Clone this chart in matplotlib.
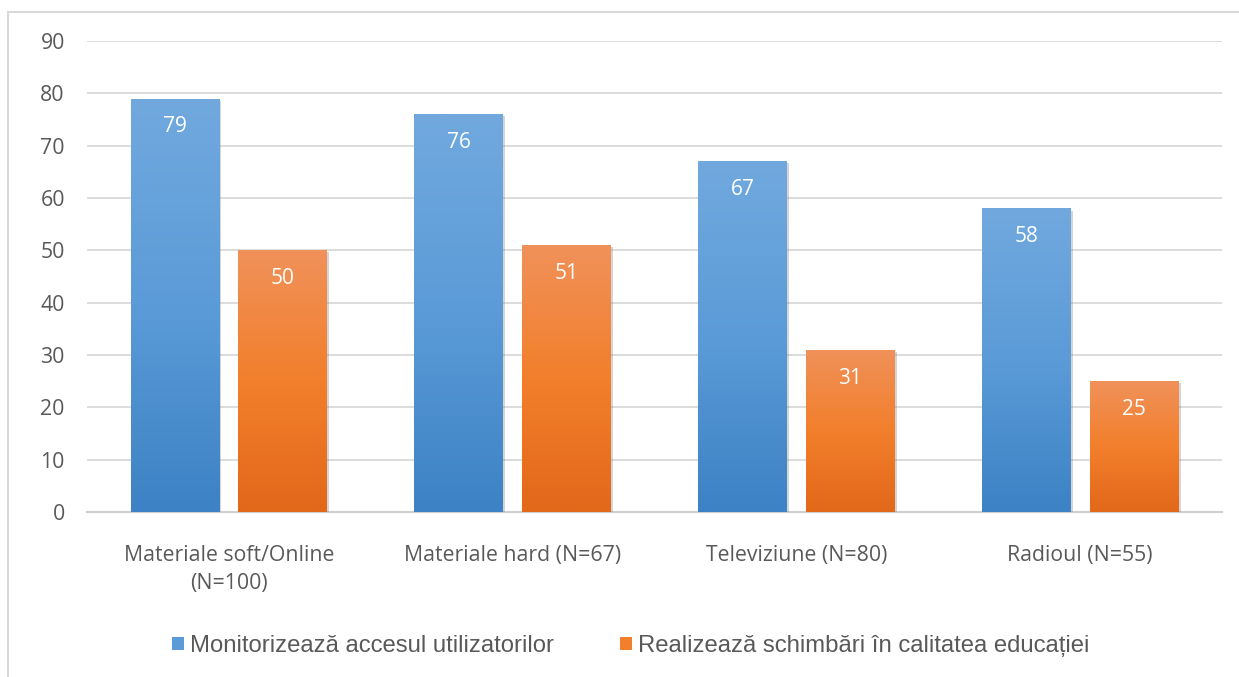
import numpy as np
import matplotlib
matplotlib.use("Agg")
import matplotlib.pyplot as plt
from matplotlib.colors import LinearSegmentedColormap
from matplotlib.patches import Rectangle
import matplotlib.patheffects as pe

categories = ["Materiale soft/Online\n(N=100)", "Materiale hard (N=67)",
              "Televiziune (N=80)", "Radioul (N=55)"]
monitor = [79, 76, 67, 58]
schimbari = [50, 51, 31, 25]
series_names = ["Monitorizează accesul utilizatorilor",
                "Realizează schimbări în calitatea educației"]

blue_cmap = LinearSegmentedColormap.from_list("b", ["#3c82c4", "#5b9bd8", "#71a9de"])
orange_cmap = LinearSegmentedColormap.from_list("o", ["#e2681a", "#f27f2b", "#f0915a"])

txt = "#595959"
fig = plt.figure(figsize=(12.39, 6.77), dpi=100)
ax = fig.add_axes([0.0702, 0.2437, 0.9161, 0.6957])

# outer chart border (only top and left edges fall inside the image)
fig.patches.append(Rectangle((8 / 1239, -20 / 677), 1300 / 1239, 685 / 677,
                             transform=fig.transFigure, fill=False,
                             edgecolor="#d9d9d9", linewidth=1.5))

x = np.arange(len(categories))
w = 0.313
off = 0.19

grad = np.linspace(0, 1, 256).reshape(-1, 1)


def grad_bars(xs, vals, cmap):
    bars = ax.bar(xs, vals, w, color="none", edgecolor="none", zorder=3)
    for b, v in zip(bars, vals):
        im = ax.imshow(grad, cmap=cmap, origin="lower", aspect="auto",
                       extent=[b.get_x(), b.get_x() + b.get_width(), 0, v],
                       zorder=3)
        im.set_clip_path(b)
        b.set_path_effects([pe.SimplePatchShadow(offset=(1.5, -1.5),
                                                 shadow_rgbFace="#888888",
                                                 alpha=0.35)])
        b.set_facecolor((1, 1, 1, 0.001))
        ax.text(b.get_x() + b.get_width() / 2, v - 5.4, str(v), ha="center",
                va="center", color="white", fontsize=15,
                family="Open Sans", zorder=5)
    return bars


grad_bars(x - off, monitor, blue_cmap)
grad_bars(x + off, schimbari, orange_cmap)

ax.set_xlim(-0.5, len(categories) - 0.5)
ax.set_ylim(0, 90)
ax.set_yticks(range(0, 91, 10))
ax.yaxis.grid(True, color="#d9d9d9", linewidth=1.3, zorder=0)
ax.set_axisbelow(True)
for s in ["top", "right", "left"]:
    ax.spines[s].set_visible(False)
ax.spines["bottom"].set_color("#d0d0d0")
ax.spines["bottom"].set_linewidth(1.5)
ax.tick_params(length=0, labelsize=15.3, labelcolor=txt, pad=16)
ax.set_xticks(x)
ax.set_xticklabels(categories, family="Open Sans", linespacing=1.4)
for lab in ax.get_yticklabels():
    lab.set_family("Open Sans")
ax.tick_params(axis="x", pad=24)

# legend
handles = [Rectangle((0, 0), 1, 1, facecolor="#5b9bd8"),
           Rectangle((0, 0), 1, 1, facecolor="#f27f2b")]
leg = fig.legend(handles, series_names, loc="center", ncol=2,
                 bbox_to_anchor=(0.509, 1 - 646 / 677), frameon=False,
                 prop={"family": "Liberation Sans", "size": 17.2},
                 handlelength=0.5, handleheight=0.5, handletextpad=0.25,
                 columnspacing=2.8)
for t in leg.get_texts():
    t.set_color(txt)

fig.savefig("out.png", dpi=100)
